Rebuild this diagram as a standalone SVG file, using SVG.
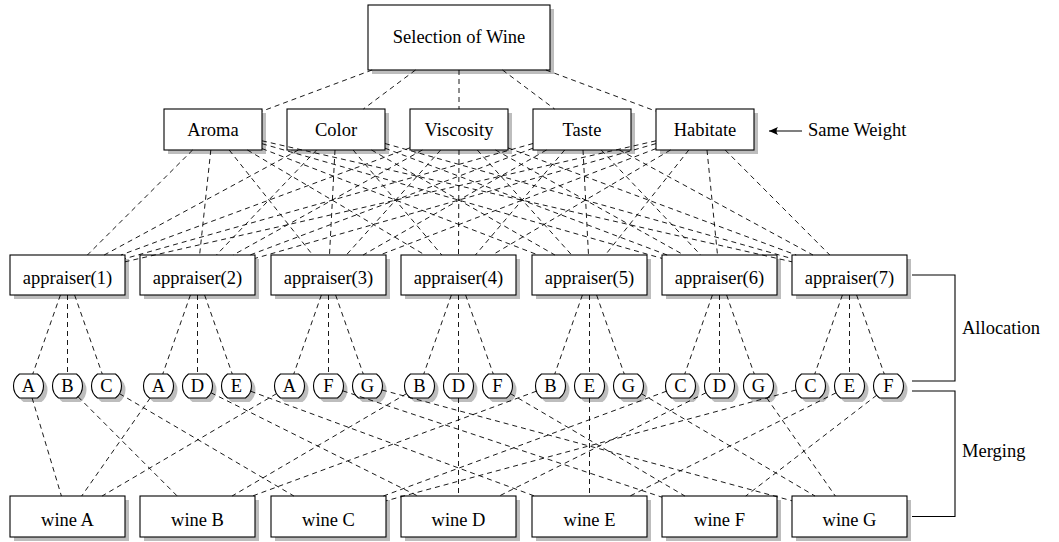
<svg xmlns="http://www.w3.org/2000/svg" width="1059" height="542" viewBox="0 0 1059 542" font-family="'Liberation Serif', 'DejaVu Serif', serif">
<defs>
<style>
.box{fill:#fff;stroke:#000;stroke-width:1.1}
.sh{fill:#bdbdbd;stroke:none}
.t{font-family:'Liberation Serif','DejaVu Serif',serif;font-size:18.5px;text-anchor:middle;fill:#000}
.l{font-family:'Liberation Serif','DejaVu Serif',serif;font-size:18.5px;fill:#000}
.c{stroke:#000;stroke-width:0.9;stroke-dasharray:5 4;fill:none}
.s{stroke:#000;stroke-width:1.1;fill:none}
</style>
<path id="pill" d="M-9,-12H9A15,15 0 0 1 9,12H-9A15,15 0 0 1 -9,-12Z"/>
<marker id="arr" markerUnits="userSpaceOnUse" markerWidth="10" markerHeight="8" refX="9" refY="4" orient="auto">
<path d="M0,0 Q3,4 0,8 L9,4 Z" fill="#000"/>
</marker>
</defs>
<rect width="1059" height="542" fill="#fff"/>

<g id="n-top"><rect class="sh" x="372" y="9" width="182" height="65"/><rect class="box" x="368" y="5" width="182" height="65"/><text class="t" x="459" y="43">Selection of Wine</text></g>

<g id="n-aroma"><rect class="sh" x="168" y="113" width="98" height="41"/><rect class="box" x="164" y="109" width="98" height="41"/><text class="t" x="213" y="136">Aroma</text></g>
<g id="n-color"><rect class="sh" x="291" y="113" width="98" height="41"/><rect class="box" x="287" y="109" width="98" height="41"/><text class="t" x="336" y="136">Color</text></g>
<g id="n-viscosity"><rect class="sh" x="414" y="113" width="98" height="41"/><rect class="box" x="410" y="109" width="98" height="41"/><text class="t" x="459" y="136">Viscosity</text></g>
<g id="n-taste"><rect class="sh" x="537" y="113" width="98" height="41"/><rect class="box" x="533" y="109" width="98" height="41"/><text class="t" x="582" y="136">Taste</text></g>
<g id="n-habitate"><rect class="sh" x="660" y="113" width="98" height="41"/><rect class="box" x="656" y="109" width="98" height="41"/><text class="t" x="705" y="136">Habitate</text></g>

<g id="same-weight"><path class="s" d="M802,131H769" stroke-width="1.4" marker-end="url(#arr)"/><text class="l" x="808" y="136">Same Weight</text></g>

<g id="n-app1"><rect class="sh" x="14" y="259" width="115" height="40"/><rect class="box" x="10" y="255" width="115" height="40"/><text class="t" x="67.5" y="284">appraiser(1)</text></g>
<g id="n-app2"><rect class="sh" x="144" y="259" width="115" height="40"/><rect class="box" x="140" y="255" width="115" height="40"/><text class="t" x="197.5" y="284">appraiser(2)</text></g>
<g id="n-app3"><rect class="sh" x="275" y="259" width="115" height="40"/><rect class="box" x="271" y="255" width="115" height="40"/><text class="t" x="328.5" y="284">appraiser(3)</text></g>
<g id="n-app4"><rect class="sh" x="405" y="259" width="115" height="40"/><rect class="box" x="401" y="255" width="115" height="40"/><text class="t" x="458.5" y="284">appraiser(4)</text></g>
<g id="n-app5"><rect class="sh" x="536" y="259" width="115" height="40"/><rect class="box" x="532" y="255" width="115" height="40"/><text class="t" x="589.5" y="284">appraiser(5)</text></g>
<g id="n-app6"><rect class="sh" x="666" y="259" width="115" height="40"/><rect class="box" x="662" y="255" width="115" height="40"/><text class="t" x="719.5" y="284">appraiser(6)</text></g>
<g id="n-app7"><rect class="sh" x="796" y="259" width="115" height="40"/><rect class="box" x="792" y="255" width="115" height="40"/><text class="t" x="849.5" y="284">appraiser(7)</text></g>

<g id="s1-A"><use href="#pill" class="sh" x="32.5" y="390"/><use href="#pill" class="box" x="28.5" y="386"/><text class="t" x="28.5" y="392">A</text></g>
<g id="s1-B"><use href="#pill" class="sh" x="71.5" y="390"/><use href="#pill" class="box" x="67.5" y="386"/><text class="t" x="67.5" y="392">B</text></g>
<g id="s1-C"><use href="#pill" class="sh" x="110.5" y="390"/><use href="#pill" class="box" x="106.5" y="386"/><text class="t" x="106.5" y="392">C</text></g>
<g id="s2-A"><use href="#pill" class="sh" x="162.5" y="390"/><use href="#pill" class="box" x="158.5" y="386"/><text class="t" x="158.5" y="392">A</text></g>
<g id="s2-D"><use href="#pill" class="sh" x="201.5" y="390"/><use href="#pill" class="box" x="197.5" y="386"/><text class="t" x="197.5" y="392">D</text></g>
<g id="s2-E"><use href="#pill" class="sh" x="240.5" y="390"/><use href="#pill" class="box" x="236.5" y="386"/><text class="t" x="236.5" y="392">E</text></g>
<g id="s3-A"><use href="#pill" class="sh" x="293.5" y="390"/><use href="#pill" class="box" x="289.5" y="386"/><text class="t" x="289.5" y="392">A</text></g>
<g id="s3-F"><use href="#pill" class="sh" x="332.5" y="390"/><use href="#pill" class="box" x="328.5" y="386"/><text class="t" x="328.5" y="392">F</text></g>
<g id="s3-G"><use href="#pill" class="sh" x="371.5" y="390"/><use href="#pill" class="box" x="367.5" y="386"/><text class="t" x="367.5" y="392">G</text></g>
<g id="s4-B"><use href="#pill" class="sh" x="423.5" y="390"/><use href="#pill" class="box" x="419.5" y="386"/><text class="t" x="419.5" y="392">B</text></g>
<g id="s4-D"><use href="#pill" class="sh" x="462.5" y="390"/><use href="#pill" class="box" x="458.5" y="386"/><text class="t" x="458.5" y="392">D</text></g>
<g id="s4-F"><use href="#pill" class="sh" x="501.5" y="390"/><use href="#pill" class="box" x="497.5" y="386"/><text class="t" x="497.5" y="392">F</text></g>
<g id="s5-B"><use href="#pill" class="sh" x="554.5" y="390"/><use href="#pill" class="box" x="550.5" y="386"/><text class="t" x="550.5" y="392">B</text></g>
<g id="s5-E"><use href="#pill" class="sh" x="593.5" y="390"/><use href="#pill" class="box" x="589.5" y="386"/><text class="t" x="589.5" y="392">E</text></g>
<g id="s5-G"><use href="#pill" class="sh" x="632.5" y="390"/><use href="#pill" class="box" x="628.5" y="386"/><text class="t" x="628.5" y="392">G</text></g>
<g id="s6-C"><use href="#pill" class="sh" x="684.5" y="390"/><use href="#pill" class="box" x="680.5" y="386"/><text class="t" x="680.5" y="392">C</text></g>
<g id="s6-D"><use href="#pill" class="sh" x="723.5" y="390"/><use href="#pill" class="box" x="719.5" y="386"/><text class="t" x="719.5" y="392">D</text></g>
<g id="s6-G"><use href="#pill" class="sh" x="762.5" y="390"/><use href="#pill" class="box" x="758.5" y="386"/><text class="t" x="758.5" y="392">G</text></g>
<g id="s7-C"><use href="#pill" class="sh" x="814.5" y="390"/><use href="#pill" class="box" x="810.5" y="386"/><text class="t" x="810.5" y="392">C</text></g>
<g id="s7-E"><use href="#pill" class="sh" x="853.5" y="390"/><use href="#pill" class="box" x="849.5" y="386"/><text class="t" x="849.5" y="392">E</text></g>
<g id="s7-F"><use href="#pill" class="sh" x="892.5" y="390"/><use href="#pill" class="box" x="888.5" y="386"/><text class="t" x="888.5" y="392">F</text></g>

<g id="n-wineA"><rect class="sh" x="14" y="500" width="115" height="41"/><rect class="box" x="10" y="496" width="115" height="41"/><text class="t" x="67.5" y="526">wine A</text></g>
<g id="n-wineB"><rect class="sh" x="144" y="500" width="115" height="41"/><rect class="box" x="140" y="496" width="115" height="41"/><text class="t" x="197.5" y="526">wine B</text></g>
<g id="n-wineC"><rect class="sh" x="275" y="500" width="115" height="41"/><rect class="box" x="271" y="496" width="115" height="41"/><text class="t" x="328.5" y="526">wine C</text></g>
<g id="n-wineD"><rect class="sh" x="405" y="500" width="115" height="41"/><rect class="box" x="401" y="496" width="115" height="41"/><text class="t" x="458.5" y="526">wine D</text></g>
<g id="n-wineE"><rect class="sh" x="536" y="500" width="115" height="41"/><rect class="box" x="532" y="496" width="115" height="41"/><text class="t" x="589.5" y="526">wine E</text></g>
<g id="n-wineF"><rect class="sh" x="666" y="500" width="115" height="41"/><rect class="box" x="662" y="496" width="115" height="41"/><text class="t" x="719.5" y="526">wine F</text></g>
<g id="n-wineG"><rect class="sh" x="796" y="500" width="115" height="41"/><rect class="box" x="792" y="496" width="115" height="41"/><text class="t" x="849.5" y="526">wine G</text></g>

<g id="brackets">
<path class="s" d="M912,275H955V381H912"/>
<path class="s" d="M912,391H955V516.5H912"/>
<text class="l" x="962" y="334">Allocation</text>
<text class="l" x="962" y="457">Merging</text>
</g>

<g id="connectors">
<path class="c" d="M372.1,70L262,111.2"/>
<path class="c" d="M415.5,70L363.4,109"/>
<path class="c" d="M459,70L459,109"/>
<path class="c" d="M502.5,70L554.6,109"/>
<path class="c" d="M545.9,70L656,111.2"/>

<path class="c" d="M192.6,150L87.4,255"/>
<path class="c" d="M210.8,150L199.6,255"/>
<path class="c" d="M229.2,150L312.7,255"/>
<path class="c" d="M247.4,150L425,255"/>
<path class="c" d="M262,148.6L538.1,255"/>
<path class="c" d="M262,143.7L662,258.4"/>
<path class="c" d="M262,140.8L792,261.8"/>

<path class="c" d="M298.4,150L104.2,255"/>
<path class="c" d="M316.6,150L216.4,255"/>
<path class="c" d="M335,150L329.5,255"/>
<path class="c" d="M353.1,150L441.8,255"/>
<path class="c" d="M371.5,150L554.9,255"/>
<path class="c" d="M385,148.2L667.1,255"/>
<path class="c" d="M385,143.5L792,258.6"/>

<path class="c" d="M410,147.8L121,255"/>
<path class="c" d="M422.4,150L233.2,255"/>
<path class="c" d="M440.7,150L346.3,255"/>
<path class="c" d="M459,150L458.5,255"/>
<path class="c" d="M477.3,150L571.7,255"/>
<path class="c" d="M495.5,150L683.9,255"/>
<path class="c" d="M508,147.9L796.2,255"/>

<path class="c" d="M533,143.5L125,258.6"/>
<path class="c" d="M533,148.2L250,255"/>
<path class="c" d="M546.5,150L363.1,255"/>
<path class="c" d="M564.7,150L475.4,255"/>
<path class="c" d="M583,150L588.5,255"/>
<path class="c" d="M601.2,150L700.7,255"/>
<path class="c" d="M619.4,150L813,255"/>

<path class="c" d="M656,140.8L125,261.8"/>
<path class="c" d="M656,143.6L255,258.4"/>
<path class="c" d="M656,148.6L379.9,255"/>
<path class="c" d="M670.5,150L492.2,255"/>
<path class="c" d="M688.8,150L605.3,255"/>
<path class="c" d="M707,150L717.5,255"/>
<path class="c" d="M725.2,150L829.8,255"/>

<path class="c" d="M60.4,295L32.75,374M67.5,295L67.5,374M74.6,295L102.25,374"/>
<path class="c" d="M190.4,295L162.75,374M197.5,295L197.5,374M204.6,295L232.25,374"/>
<path class="c" d="M321.4,295L293.75,374M328.5,295L328.5,374M335.6,295L363.25,374"/>
<path class="c" d="M451.4,295L423.75,374M458.5,295L458.5,374M465.6,295L493.25,374"/>
<path class="c" d="M582.4,295L554.75,374M589.5,295L589.5,374M596.6,295L624.25,374"/>
<path class="c" d="M712.4,295L684.75,374M719.5,295L719.5,374M726.6,295L754.25,374"/>
<path class="c" d="M842.4,295L814.75,374M849.5,295L849.5,374M856.6,295L884.25,374"/>

<path class="c" d="M32.1,398L61.4,496"/>
<path class="c" d="M78,396.7L177.2,496"/>
<path class="c" d="M119.4,393.6L293.9,496"/>
<path class="c" d="M150.2,398L81.7,496"/>
<path class="c" d="M210.9,392.7L417.8,496"/>
<path class="c" d="M250.6,391.2L534.5,496"/>
<path class="c" d="M276.6,393.6L102.1,496"/>
<path class="c" d="M342.7,390.8L662,497.2"/>
<path class="c" d="M382,390L792,500.8"/>
<path class="c" d="M406.6,393.6L232.1,496"/>
<path class="c" d="M458.5,398L458.5,496"/>
<path class="c" d="M510.4,393.6L684.9,496"/>
<path class="c" d="M536.4,391.2L252.5,496"/>
<path class="c" d="M589.5,398L589.5,496"/>
<path class="c" d="M641.4,393.7L815,496"/>
<path class="c" d="M666.5,391.2L383.4,496"/>
<path class="c" d="M706.1,392.7L499.2,496"/>
<path class="c" d="M766.8,398L835.3,496"/>
<path class="c" d="M796,390L386,500.8"/>
<path class="c" d="M836.1,392.8L630,496"/>
<path class="c" d="M876.7,395.2L745.8,496"/>
</g>
</svg>
